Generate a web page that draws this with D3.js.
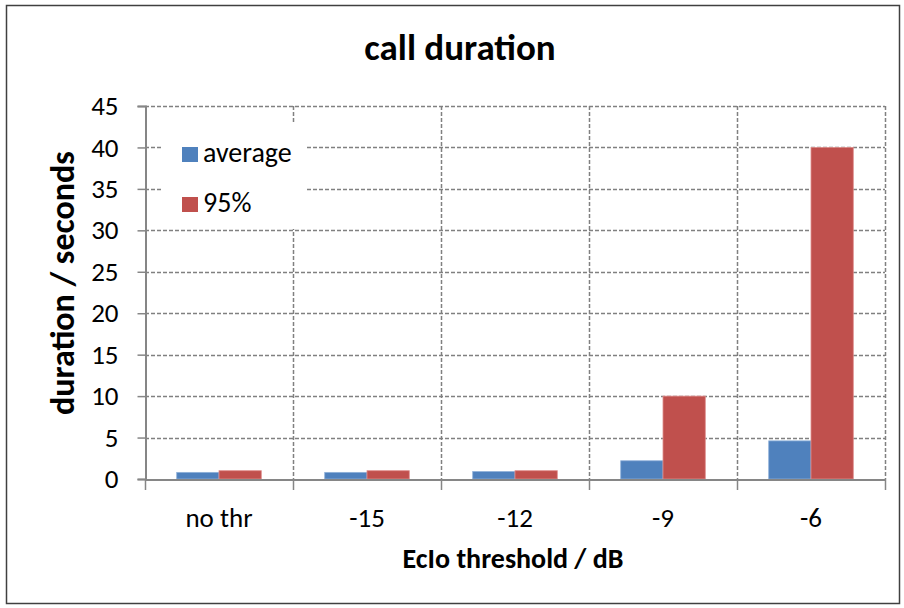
<!DOCTYPE html>
<html>
<head>
<meta charset="utf-8">
<script src="https://cdn.jsdelivr.net/npm/d3@7/dist/d3.min.js"></script>
<style>
  html, body { margin: 0; padding: 0; background: #fff; }
  svg text { font-family: Carlito, Lato, "Open Sans", sans-serif; fill: #000; }
</style>
</head>
<body>
<svg id="chart" width="904" height="608"></svg>
<script>
// Call duration per Ec/Io threshold
const categories = ["no thr", "-15", "-12", "-9", "-6"];
const seriesNames = ["average", "95%"];
const averageValues = [0.8, 0.8, 0.9, 2.2, 4.6];
const p95Values = [1.0, 1.0, 1.0, 10.0, 40.0];
const yTicks = [0, 5, 10, 15, 20, 25, 30, 35, 40, 45];
const seriesColors = ["#4F81BD", "#C0504D"];

const FONT = "Carlito, Lato, sans-serif";
const svg = d3.select("#chart");
const margin = { left: 145, right: 19, top: 106, bottom: 129 };
const W = 904, H = 608;
const x0 = margin.left, x1 = W - margin.right;
const y0 = H - margin.bottom, y1 = margin.top;

// outer frame
svg.append("rect")
  .attr("x", 6.5).attr("y", 5.5).attr("width", 893).attr("height", 598)
  .attr("fill", "#fff").attr("stroke", "#404040").attr("stroke-width", 1.5);

const x = d3.scaleBand().domain(categories).range([x0, x1]);
const y = d3.scaleLinear().domain([0, 45]).range([y0, y1]);
const xs = d3.scaleBand().domain(seriesNames).range([0, x.bandwidth()]).paddingInner(0).paddingOuter(0.75);

const grid = svg.append("g");
// horizontal dashed gridlines
grid.selectAll("line.h").data(yTicks.filter(d => d > 0)).join("line")
  .attr("x1", x0).attr("x2", x1)
  .attr("y1", d => Math.round(y(d)) + 0.5).attr("y2", d => Math.round(y(d)) + 0.5)
  .attr("stroke", "#808080").attr("stroke-width", 1.5).attr("stroke-dasharray", "4,2");
// vertical dashed gridlines at category boundaries
const bounds = categories.map(c => x(c) + x.bandwidth());
grid.selectAll("line.v").data(bounds).join("line")
  .attr("x1", d => Math.round(d) + 0.5).attr("x2", d => Math.round(d) + 0.5)
  .attr("y1", y1).attr("y2", y0)
  .attr("stroke", "#808080").attr("stroke-width", 1.5).attr("stroke-dasharray", "4,2");

// bars
const rows = categories.map((c, i) => ({ c, vals: [averageValues[i], p95Values[i]] }));
svg.append("g").selectAll("g").data(rows).join("g")
  .attr("transform", d => `translate(${x(d.c)},0)`)
  .selectAll("rect").data(d => d.vals.map((v, j) => ({ v, s: seriesNames[j], j })))
  .join("rect")
  .attr("x", d => xs(d.s)).attr("width", xs.bandwidth())
  .attr("y", d => y(d.v)).attr("height", d => y(0) - y(d.v))
  .attr("fill", d => seriesColors[d.j])
  .attr("stroke", d => d.j === 0 ? "#8FB0D9" : "#DE8E8C").attr("stroke-width", 0.8);

// legend (white box over the gridlines)
const lg = svg.append("g");
lg.append("rect").attr("x", 162).attr("y", 124).attr("width", 145).attr("height", 105).attr("fill", "#fff");
seriesNames.forEach((n, i) => {
  const ly = 147 + i * 50;
  lg.append("rect").attr("x", 182).attr("y", ly).attr("width", 16).attr("height", 15).attr("fill", seriesColors[i]);
  lg.append("text").attr("x", 203).attr("y", ly + 15).attr("font-size", 28).attr("font-family", FONT).text(n);
});

// y axis
const yAxis = d3.axisLeft(y).tickValues(yTicks).tickSize(8).tickPadding(19);
const gy = svg.append("g").attr("transform", `translate(${x0 + 0.5},0)`).call(yAxis);
gy.select(".domain").attr("stroke", "#868686").attr("stroke-width", 2);
gy.selectAll(".tick line").attr("stroke", "#868686").attr("stroke-width", 1.5);
gy.selectAll(".tick text").attr("font-size", 27).attr("font-family", FONT).attr("fill", "#000");

// x axis
const gx = svg.append("g").attr("transform", `translate(0,${y0 + 0.5})`).call(d3.axisBottom(x).tickSize(0).tickPadding(28));
gx.select(".domain").attr("stroke", "#868686").attr("stroke-width", 2);
gx.selectAll(".tick text").attr("font-size", 27).attr("font-family", FONT).attr("fill", "#000");
svg.append("g").selectAll("line").data([x0].concat(bounds)).join("line")
  .attr("x1", d => Math.round(d) + 0.5).attr("x2", d => Math.round(d) + 0.5)
  .attr("y1", y0).attr("y2", y0 + 11)
  .attr("stroke", "#868686").attr("stroke-width", 1.5);

// titles
svg.append("text").attr("x", 460).attr("y", 60).attr("text-anchor", "middle")
  .attr("font-size", 37).attr("font-weight", "bold").attr("font-family", FONT).text("call duration");
svg.append("text").attr("transform", "translate(74,283) rotate(-90)")
  .attr("text-anchor", "middle").attr("font-size", 34).attr("font-weight", "bold").attr("font-family", FONT).text("duration / seconds");
svg.append("text").attr("x", 513).attr("y", 568).attr("text-anchor", "middle")
  .attr("font-size", 28).attr("font-weight", "bold").attr("font-family", FONT).text("EcIo threshold / dB");
</script>
</body>
</html>
